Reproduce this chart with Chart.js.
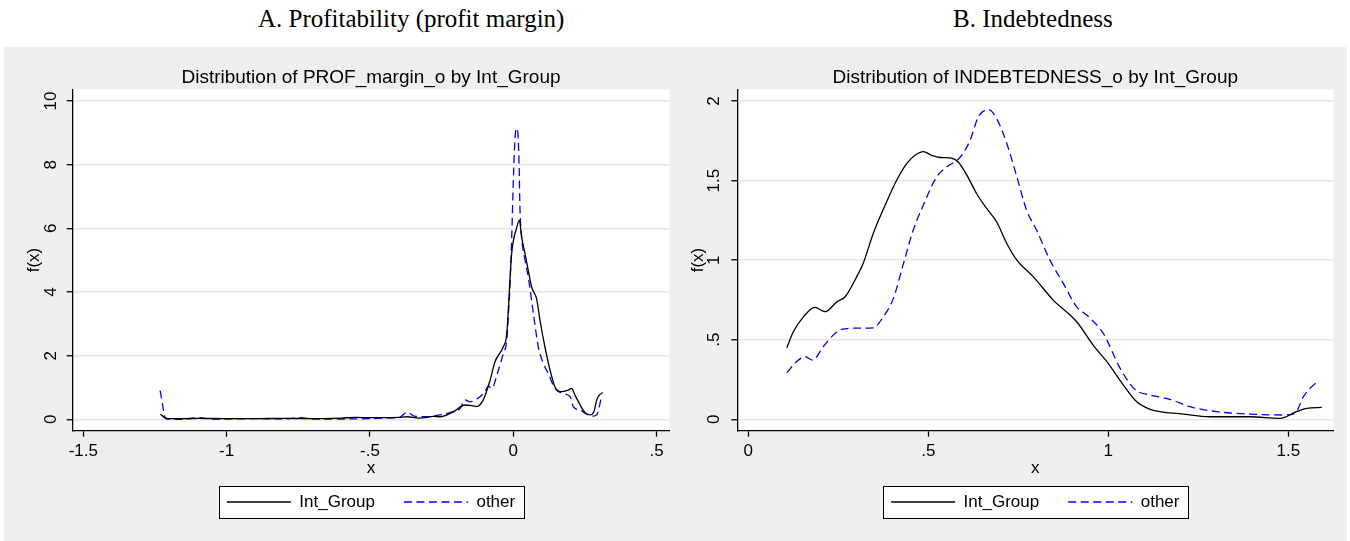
<!DOCTYPE html>
<html>
<head>
<meta charset="utf-8">
<script src="https://cdn.jsdelivr.net/npm/chart.js@4.4.1/dist/chart.umd.min.js"></script>
<style>
  html, body { margin: 0; padding: 0; background: #ffffff; }
  body { width: 1350px; height: 541px; position: relative; overflow: hidden; }
  #band { position: absolute; left: 4px; top: 47px; width: 1343px; height: 494px; background: #efefef; }
  .ptitle { position: absolute; top: 6px; font-family: 'Liberation Serif', 'Times New Roman', serif;
            font-size: 25px; line-height: 25px; color: #000; white-space: nowrap; }
  .holder { position: absolute; top: 47px; height: 494px; }
  canvas { display: block; }
</style>
</head>
<body>
<div id="band"></div>
<div class="ptitle" style="left:258px">A. Profitability (profit margin)</div>
<div class="ptitle" style="left:953px">B. Indebtedness</div>
<div class="holder" style="left:4px;width:671px"><canvas id="chartProf" width="671" height="494"></canvas></div>
<div class="holder" style="left:675px;width:672px"><canvas id="chartDebt" width="672" height="494"></canvas></div>

<script>
// ---- Panel A: kernel density of profit margin ----
const profXInt = [-1.232, -1.209, -1.15, -1.1, -1.0, -0.9, -0.8, -0.7, -0.6, -0.55, -0.5, -0.45, -0.4, -0.37, -0.33, -0.3,
  -0.28, -0.256, -0.209, -0.169, -0.14, -0.128, -0.105, -0.081, -0.064, -0.035, -0.023, -0.006, 0.012, 0.021, 0.029,
  0.041, 0.052, 0.064, 0.081, 0.093, 0.110, 0.128, 0.145, 0.163, 0.192, 0.203, 0.215, 0.233, 0.250, 0.267, 0.281,
  0.291, 0.300, 0.312];
const profYInt = [0.16, 0.03, 0.02, 0.03, 0.02, 0.02, 0.03, 0.02, 0.04, 0.06, 0.05, 0.05, 0.06, 0.08, 0.04, 0.06,
  0.09, 0.08, 0.24, 0.45, 0.42, 0.40, 0.61, 1.23, 1.81, 2.28, 2.69, 5.20, 6.03, 6.26, 5.72,
  5.20, 4.68, 4.15, 3.79, 3.11, 2.28, 1.55, 1.02, 0.87, 0.92, 0.97, 0.76, 0.45, 0.21, 0.14, 0.24,
  0.61, 0.76, 0.84];

const profXOther = [-1.232, -1.211, -1.15, -1.1, -1.05, -1.0, -0.9, -0.8, -0.74, -0.7, -0.6, -0.5, -0.45, -0.4, -0.37,
  -0.345, -0.3, -0.256, -0.221, -0.186, -0.169, -0.151, -0.128, -0.099, -0.087, -0.076, -0.052, -0.035, -0.023, -0.017,
  -0.012, -0.006, 0.0, 0.006, 0.0105, 0.015, 0.020, 0.023, 0.029, 0.041, 0.052, 0.070, 0.087, 0.105, 0.122, 0.145,
  0.174, 0.198, 0.209, 0.233, 0.256, 0.279, 0.291, 0.300, 0.308];
const profYOther = [0.90, 0.01, 0.0, 0.05, 0.01, 0.01, 0.02, 0.01, 0.05, 0.01, 0.01, 0.02, 0.04, 0.05, 0.22,
  0.10, 0.08, 0.14, 0.21, 0.34, 0.61, 0.55, 0.63, 0.87, 1.04, 0.97, 1.55, 2.07, 2.48, 3.32,
  4.15, 5.62, 7.50, 8.85, 9.14, 9.06, 8.02, 6.66, 5.72, 4.99, 4.47, 3.32, 2.28, 1.75, 1.44, 0.97,
  0.81, 0.71, 0.40, 0.29, 0.16, 0.10, 0.14, 0.40, 0.76];

// ---- Panel B: kernel density of indebtedness ----
const debtXInt = [0.107, 0.125, 0.153, 0.185, 0.213, 0.246, 0.269, 0.301, 0.319, 0.347, 0.380, 0.412, 0.440, 0.463,
  0.486, 0.509, 0.532, 0.560, 0.583, 0.607, 0.634, 0.662, 0.690, 0.718, 0.746, 0.792, 0.847, 0.912, 0.960, 0.996,
  1.042, 1.079, 1.116, 1.208, 1.283, 1.394, 1.477, 1.523, 1.551, 1.593];
const debtYInt = [0.45, 0.55, 0.644, 0.703, 0.676, 0.738, 0.77, 0.895, 0.979, 1.168, 1.345, 1.502, 1.607, 1.659,
  1.682, 1.659, 1.645, 1.643, 1.617, 1.534, 1.419, 1.325, 1.24, 1.105, 1.0, 0.895, 0.749, 0.613, 0.46, 0.362,
  0.215, 0.11, 0.063, 0.033, 0.016, 0.016, 0.006, 0.048, 0.069, 0.075];

const debtXOther = [0.107, 0.134, 0.158, 0.179, 0.208, 0.236, 0.259, 0.301, 0.347, 0.375, 0.403, 0.431, 0.458, 0.486,
  0.523, 0.551, 0.588, 0.616, 0.639, 0.667, 0.690, 0.718, 0.746, 0.773, 0.801, 0.838, 0.875, 0.912, 0.940, 0.986,
  1.033, 1.074, 1.116, 1.171, 1.227, 1.301, 1.394, 1.486, 1.519, 1.542, 1.565, 1.579];
const debtYOther = [0.293, 0.362, 0.393, 0.372, 0.456, 0.529, 0.565, 0.573, 0.575, 0.644, 0.76, 0.979, 1.188, 1.345,
  1.523, 1.586, 1.645, 1.753, 1.9, 1.946, 1.889, 1.733, 1.523, 1.314, 1.188, 1.0, 0.854, 0.707, 0.655, 0.54,
  0.32, 0.188, 0.153, 0.126, 0.079, 0.048, 0.033, 0.027, 0.038, 0.142, 0.205, 0.232];

const seriesNames = ['Int_Group', 'other'];
const chartTitles = ['Distribution of PROF_margin_o by Int_Group', 'Distribution of INDEBTEDNESS_o by Int_Group'];

const SANS = "'Liberation Sans', Arial, Helvetica, sans-serif";
const tickFont = { family: SANS, size: 17, lineHeight: 1 };

// Stata-style numbers: drop the leading zero (".5", "-.5")
function stataNum(v) {
  const s = String(Math.round(v * 1000) / 1000);
  return s.replace(/^(-?)0\./, '$1.');
}

function pairs(xs, ys) { return xs.map((x, i) => ({ x: x, y: ys[i] })); }

// legend samples take the dash pattern and width of their line
function lineLegendLabels(chart) {
  const items = Chart.defaults.plugins.legend.labels.generateLabels(chart);
  items.forEach(it => {
    const ds = chart.data.datasets[it.datasetIndex];
    it.lineDash = ds.borderDash || [];
    it.lineWidth = ds.borderWidth;
    it.strokeStyle = ds.borderColor;
  });
  return items;
}

// white plot region and the framed legend box
const framePlugin = {
  id: 'frame',
  beforeDraw(chart) {
    const { ctx, chartArea: a } = chart;
    ctx.save();
    ctx.fillStyle = '#ffffff';
    ctx.fillRect(a.left, a.top, a.right - a.left, a.bottom - a.top);
    const boxes = chart.legend && chart.legend.legendHitBoxes;
    if (boxes && boxes.length) {
      const x0 = Math.min(...boxes.map(b => b.left)) - 8;
      const x1 = Math.max(...boxes.map(b => b.left + b.width)) + 9;
      const yc = boxes[0].top + boxes[0].height / 2;
      ctx.fillStyle = '#ffffff';
      ctx.fillRect(x0, yc - 16, x1 - x0, 32);
      ctx.strokeStyle = '#000000';
      ctx.lineWidth = 1;
      ctx.strokeRect(Math.round(x0) + 0.5, Math.round(yc - 16) + 0.5, Math.round(x1 - x0), 32);
    }
    ctx.restore();
  }
};

function makeChart(id, cfg) {
  return new Chart(document.getElementById(id), {
    type: 'line',
    data: {
      datasets: [
        { label: seriesNames[0], data: pairs(cfg.xInt, cfg.yInt), borderColor: '#000000', borderWidth: 1.3,
          pointRadius: 0, fill: false, cubicInterpolationMode: 'monotone' },
        { label: seriesNames[1], data: pairs(cfg.xOther, cfg.yOther), borderColor: '#0000ff', borderWidth: 1.3,
          borderDash: [8, 4.5], pointRadius: 0, fill: false, cubicInterpolationMode: 'monotone' }
      ]
    },
    options: {
      responsive: false,
      animation: false,
      events: [],
      layout: { padding: { left: cfg.padLeft, right: cfg.padRight, top: 0, bottom: 20.5 } },
      plugins: {
        title: {
          display: true, text: cfg.title, fullSize: false, color: '#000',
          font: { family: SANS, size: 19, weight: 'normal', lineHeight: 1.2 },
          padding: { top: 19.6, bottom: 0 }
        },
        legend: {
          display: true, position: 'bottom', fullSize: false,
          labels: {
            usePointStyle: true, pointStyle: 'line', pointStyleWidth: 64, boxHeight: 17,
            padding: 29, color: '#000', font: tickFont, generateLabels: lineLegendLabels
          }
        },
        tooltip: { enabled: false }
      },
      scales: {
        x: {
          type: 'linear', min: cfg.xMin, max: cfg.xMax,
          border: { display: true, color: '#000', width: 1.3 },
          grid: { drawOnChartArea: false, drawTicks: true, tickLength: 6, tickColor: '#000', tickWidth: 1.3 },
          ticks: { stepSize: 0.5, includeBounds: false, autoSkip: false, maxRotation: 0, padding: 5.8,
                   color: '#000', font: tickFont, callback: stataNum },
          title: { display: true, text: 'x', color: '#000', font: tickFont, padding: { top: -5.8, bottom: -12 } }
        },
        y: {
          type: 'linear', min: cfg.yMin, max: cfg.yMax,
          border: { display: true, color: '#000', width: 1.3 },
          grid: { drawOnChartArea: true, color: '#e6e6e6', lineWidth: 1.5, drawTicks: true, tickLength: 6,
                  tickColor: '#000', tickWidth: 1.3 },
          ticks: { stepSize: cfg.yStep, includeBounds: false, autoSkip: false, minRotation: 90, maxRotation: 90,
                   crossAlign: 'center', padding: 5.5, color: '#000', font: tickFont, callback: stataNum },
          title: { display: true, text: 'f(x)', color: '#000', font: { family: SANS, size: 17, lineHeight: 1.2 },
                   padding: { top: 0, bottom: -5.7 } }
        }
      }
    },
    plugins: [framePlugin]
  });
}

makeChart('chartProf', {
  title: chartTitles[0], xInt: profXInt, yInt: profYInt, xOther: profXOther, yOther: profYOther,
  xMin: -1.537, xMax: 0.544, yMin: -0.358, yMax: 10.367, yStep: 2, padLeft: 20, padRight: 5.7
});
makeChart('chartDebt', {
  title: chartTitles[1], xInt: debtXInt, yInt: debtYInt, xOther: debtXOther, yOther: debtYOther,
  xMin: -0.0306, xMax: 1.625, yMin: -0.0716, yMax: 2.073, yStep: 0.5, padLeft: 13.6, padRight: 13.7
});
</script>
</body>
</html>
